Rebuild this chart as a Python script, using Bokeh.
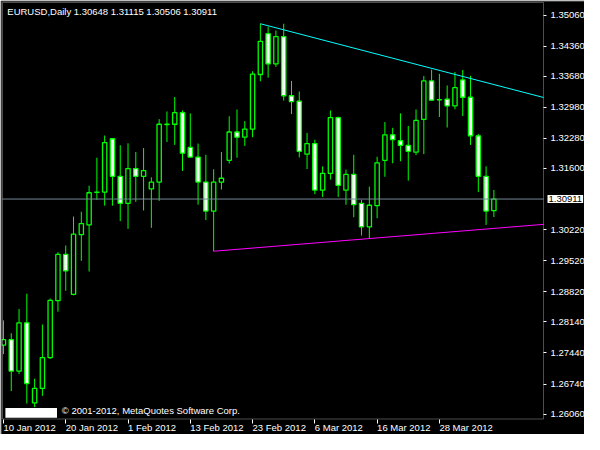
from bokeh.plotting import figure
from bokeh.models import (Range1d, FixedTicker, Label, BoxAnnotation, ColumnDataSource,
                          PrintfTickFormatter, LinearAxis)
from bokeh.embed import file_html
from bokeh.resources import INLINE

# ---- data ----
opens = [1.27619, 1.27740, 1.27032, 1.28119, 1.26314, 1.26640, 1.27336, 1.28619, 1.29662, 1.28762,
         1.30110, 1.30327, 1.31060, 1.31067, 1.32271, 1.31423, 1.30814, 1.31597, 1.31423, 1.31140,
         1.31293, 1.32590, 1.32597, 1.32858, 1.32075, 1.31858, 1.31293, 1.30640, 1.31293, 1.31784,
         1.32423, 1.32306, 1.32488, 1.33719, 1.34640, 1.33958, 1.34575, 1.33240, 1.33119, 1.31923,
         1.32162, 1.31110, 1.31488, 1.32749, 1.31110, 1.31467, 1.30814, 1.30284, 1.30762, 1.31784,
         1.32358, 1.32227, 1.32119, 1.31967, 1.32706, 1.33575, 1.33150, 1.33162, 1.33010, 1.33597,
         1.33206, 1.32336, 1.31423, 1.30648]
highs = [1.28175, 1.27886, 1.28430, 1.28777, 1.26858, 1.28082, 1.28669, 1.29712, 1.29864, 1.30517,
         1.30625, 1.31212, 1.31843, 1.32343, 1.32280, 1.32125, 1.32169, 1.31973, 1.32060, 1.31401,
         1.32712, 1.32886, 1.33212, 1.32908, 1.32843, 1.32162, 1.31908, 1.31582, 1.31973, 1.32777,
         1.32930, 1.32669, 1.33793, 1.34864, 1.34799, 1.34712, 1.34864, 1.33575, 1.33336, 1.32401,
         1.32249, 1.31647, 1.32908, 1.32771, 1.31575, 1.31908, 1.30893, 1.31190, 1.31864, 1.32647,
         1.32517, 1.32843, 1.32560, 1.32930, 1.33684, 1.33827, 1.33734, 1.33473, 1.33777, 1.33821,
         1.33690, 1.32380, 1.31647, 1.31115]
lows = [1.27414, 1.26582, 1.26967, 1.26299, 1.26219, 1.26473, 1.27306, 1.28371, 1.28843, 1.28740,
        1.29517, 1.29277, 1.30893, 1.30762, 1.30762, 1.30414, 1.30240, 1.30849, 1.30653, 1.30262,
        1.30871, 1.32197, 1.32132, 1.31545, 1.31850, 1.30784, 1.30436, 1.29734, 1.31125, 1.31712,
        1.31843, 1.32110, 1.32306, 1.33567, 1.33647, 1.33893, 1.33132, 1.32827, 1.31849, 1.31588,
        1.31023, 1.30958, 1.31349, 1.30958, 1.30784, 1.30501, 1.30088, 1.30023, 1.30480, 1.31414,
        1.31719, 1.31762, 1.31327, 1.31901, 1.31923, 1.33125, 1.32762, 1.32523, 1.32936, 1.32784,
        1.32132, 1.31067, 1.30327, 1.30506]
closes = [1.27740, 1.27032, 1.28119, 1.26749, 1.26640, 1.27336, 1.28625, 1.29662, 1.29293, 1.30119,
          1.30358, 1.31053, 1.31067, 1.32184, 1.31423, 1.30814, 1.31597, 1.31423, 1.31553, 1.31293,
          1.32597, 1.32597, 1.32858, 1.31945, 1.31858, 1.31293, 1.30640, 1.31293, 1.31380, 1.32423,
          1.32306, 1.32488, 1.33727, 1.34467, 1.33958, 1.34575, 1.33240, 1.33110, 1.31988, 1.32162,
          1.31114, 1.31488, 1.32749, 1.31219, 1.31467, 1.30784, 1.30284, 1.30771, 1.31727, 1.32358,
          1.32249, 1.32119, 1.31988, 1.32684, 1.33575, 1.33140, 1.33153, 1.33010, 1.33423, 1.33206,
          1.32336, 1.31423, 1.30640, 1.30911]

price_ticks = [1.35060, 1.34360, 1.33680, 1.32980, 1.32280, 1.31600, 1.30220,
               1.29520, 1.28820, 1.28140, 1.27440, 1.26740, 1.26060]
date_bars = [0, 8, 16, 24, 32, 40, 48, 56]
date_labels = ["10 Jan 2012", "20 Jan 2012", "1 Feb 2012", "13 Feb 2012",
               "23 Feb 2012", "6 Mar 2012", "16 Mar 2012", "28 Mar 2012"]

# trend lines: start at a swing point, run to the chart's right edge
cyan_bars = [33, 69.375]
cyan_prices = [1.34864, 1.33201]
magenta_bars = [27, 69.375]
magenta_prices = [1.29734, 1.30340]

bid_price = 1.30911
title_text = "EURUSD,Daily  1.30648 1.31115 1.30506 1.30911"
copyright_text = "\u00a9 2001-2012, MetaQuotes Software Corp."

# ---- layout (pixels) ----
W, H = 584, 434
FH = H - 1                      # frame height (frame starts 1px from top, runs to bottom)
X_LEFT, X_RIGHT = -0.125, 69.375          # chart border in bar units
Y_BOTTOM, Y_TOP = 1.25951, 1.35343        # chart border in price units
PX_BAR = 541 / (X_RIGHT - X_LEFT)
PX_PRICE = 416.5 / (Y_TOP - Y_BOTTOM)
FONT = "Liberation Sans"
FS = "9.5px"
GREEN = "#00FF00"

p = figure(width=W, height=H, output_backend="svg", toolbar_location=None,
           x_range=Range1d(X_LEFT - 1 / PX_BAR, X_LEFT + 582 / PX_BAR),
           y_range=Range1d(Y_BOTTOM - 15.5 / PX_PRICE, Y_TOP + 1 / PX_PRICE),
           x_axis_location=None, y_axis_location=None,
           min_border_left=1, min_border_top=1, min_border_right=0, min_border_bottom=0)
p.background_fill_color = "black"
p.border_fill_color = "black"
p.outline_line_color = None
p.grid.visible = False

# chart border
p.add_layout(BoxAnnotation(left=X_LEFT, right=X_RIGHT, bottom=Y_BOTTOM, top=Y_TOP,
                           fill_color=None, line_color="white", line_width=1))

# price axis
ya = LinearAxis(fixed_location=X_RIGHT, ticker=FixedTicker(ticks=price_ticks),
                formatter=PrintfTickFormatter(format="%.5f"))
ya.axis_line_color = None
ya.major_tick_line_color = "white"
ya.major_tick_out = 3
ya.major_tick_in = 0
ya.minor_tick_line_color = None
ya.major_label_text_color = "white"
ya.major_label_text_font = FONT
ya.major_label_text_font_size = FS
ya.major_label_standoff = 4
p.add_layout(ya, "right")

# date axis (ticks) + left-aligned date labels
xa = LinearAxis(fixed_location=Y_BOTTOM, ticker=FixedTicker(ticks=date_bars))
xa.major_label_overrides = {b: "" for b in date_bars}
xa.axis_line_color = None
xa.major_tick_line_color = "white"
xa.major_tick_out = 4
xa.major_tick_in = 0
xa.minor_tick_line_color = None
p.add_layout(xa, "below")

for b, t in zip(date_bars, date_labels):
    p.add_layout(Label(x=b, y=12.6, x_units="data", y_units="screen", text=t,
                       text_align="left", text_baseline="top", text_color="white",
                       text_font=FONT, text_font_size=FS))

# candles
idx = list(range(len(opens)))
src = ColumnDataSource(dict(
    x=idx, high=highs, low=lows,
    top=[max(o, c) for o, c in zip(opens, closes)],
    bottom=[min(o, c) for o, c in zip(opens, closes)],
    fill=["black" if c >= o else "white" for o, c in zip(opens, closes)],
))
p.segment(x0="x", y0="low", x1="x", y1="high", source=src, line_color=GREEN, line_width=1)
p.vbar(x="x", width=0.55, top="top", bottom="bottom", fill_color="fill",
       line_color=GREEN, line_width=1.3, source=src)

# trend lines
p.line(cyan_bars, cyan_prices, line_color="#00FFFF", line_width=1)
p.line(magenta_bars, magenta_prices, line_color="#FF00FF", line_width=1)

# bid line + price box
p.segment(x0=[X_LEFT], y0=[bid_price], x1=[X_RIGHT], y1=[bid_price], line_color="#778899", line_width=1)
p.add_layout(Label(x=546, y=bid_price, x_units="screen", y_units="data", text="%.5f" % bid_price,
                   text_align="left", text_baseline="middle", text_color="black",
                   background_fill_color="white", text_font=FONT, text_font_size=FS, padding=1))

# title and copyright
p.add_layout(Label(x=5.8, y=FH - 9.6, x_units="screen", y_units="screen", text=title_text,
                   text_align="left", text_baseline="middle", text_color="white",
                   text_font=FONT, text_font_size=FS))
p.add_layout(BoxAnnotation(left=3.9, right=55.5, bottom=16.8, top=26.4, left_units="screen",
                           right_units="screen", bottom_units="screen", top_units="screen",
                           fill_color="white", fill_alpha=1, line_color=None))
p.add_layout(Label(x=60.3, y=23.6, x_units="screen", y_units="screen", text=copyright_text,
                   text_align="left", text_baseline="middle", text_color="white",
                   text_font=FONT, text_font_size=FS))

open("out.html", "w").write(file_html(p, INLINE))
